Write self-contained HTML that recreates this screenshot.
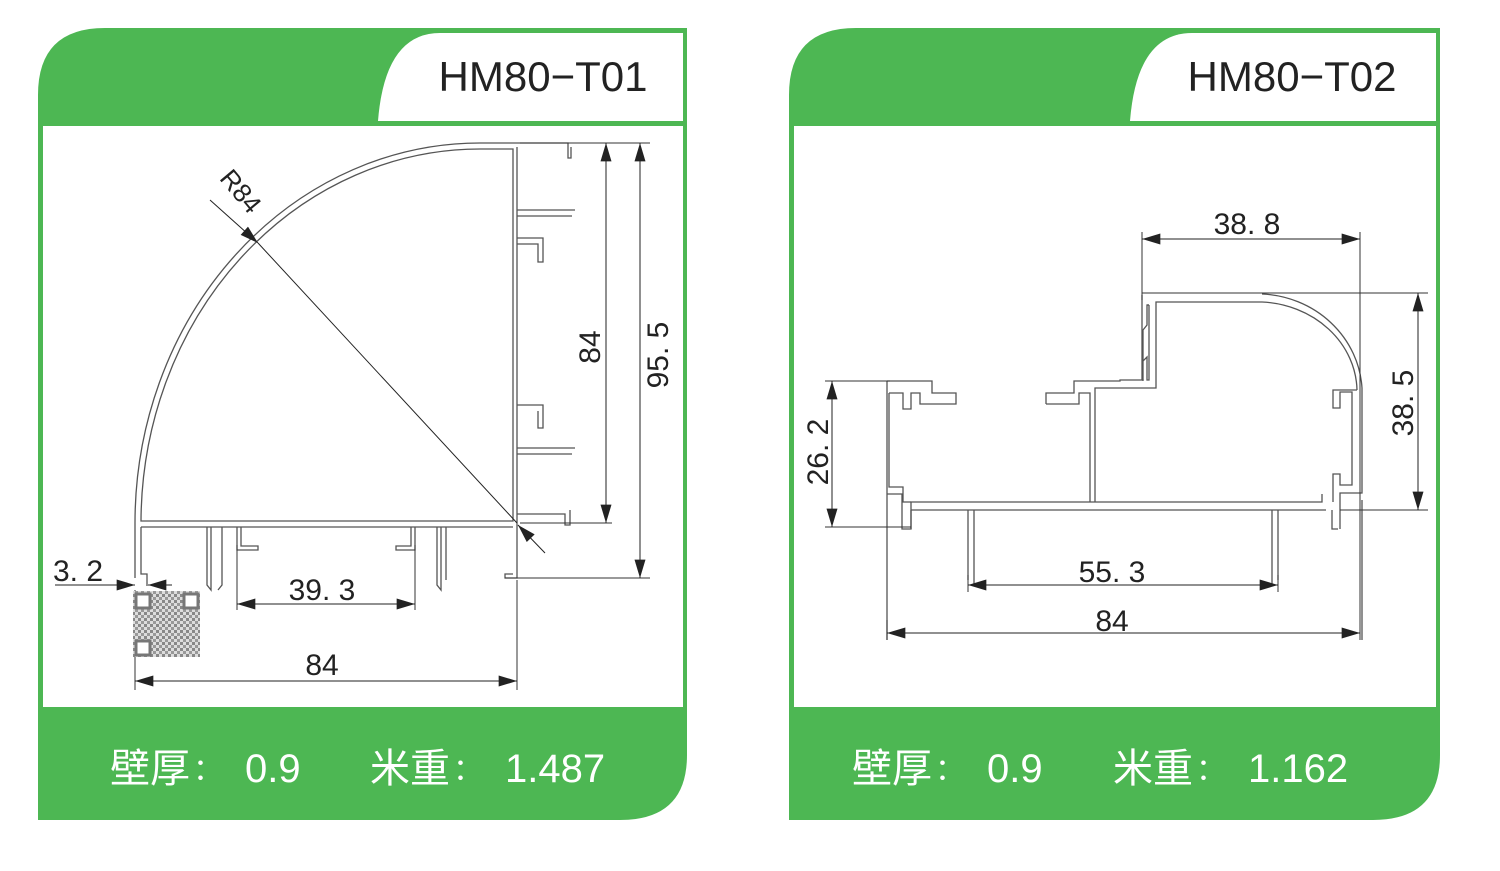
<!DOCTYPE html>
<html><head><meta charset="utf-8"><style>
body{margin:0;background:#fff;width:1500px;height:871px;overflow:hidden}
svg{display:block}
text{font-family:"Liberation Sans","Noto Sans CJK SC",sans-serif}
</style></head><body>
<svg width="1500" height="871" viewBox="0 0 1500 871">
<defs>
<marker id="a" viewBox="0 0 10 6" refX="10" refY="3" markerWidth="26" markerHeight="11" markerUnits="userSpaceOnUse" orient="auto-start-reverse"><path d="M0 0L10 3L0 6z" fill="#222"/></marker>
<pattern id="qr" width="6" height="6" patternUnits="userSpaceOnUse"><rect width="6" height="6" fill="#ddd"/><rect width="3" height="3" fill="#888"/><rect x="3" y="3" width="3" height="3" fill="#999"/></pattern>
</defs>
<path d="M38 95 Q38 28 105 28 H687 V755 Q687 820 620 820 H38 Z" fill="#4db753"/>
<rect x="43" y="126" width="640" height="581" fill="#fff"/>
<path d="M378 121 Q385 33 440 33 H683 V121 Z" fill="#fff"/>
<text x="543" y="91" font-size="42" text-anchor="middle" fill="#222">HM80−T01</text>
<g fill="#fff" font-size="40">
<text x="110" y="782">壁厚</text><text x="193" y="780" font-size="30">：</text><text x="245" y="782">0.9</text>
<text x="370" y="782">米重</text><text x="453" y="780" font-size="30">：</text><text x="505" y="782">1.487</text>
</g>
<path d="M789 95 Q789 28 856 28 H1440 V755 Q1440 820 1373 820 H789 Z" fill="#4db753"/>
<rect x="794" y="126" width="642" height="581" fill="#fff"/>
<path d="M1130 121 Q1137 33 1192 33 H1436 V121 Z" fill="#fff"/>
<text x="1292" y="91" font-size="42" text-anchor="middle" fill="#222">HM80−T02</text>
<g fill="#fff" font-size="40">
<text x="852" y="782">壁厚</text><text x="935" y="780" font-size="30">：</text><text x="987" y="782">0.9</text>
<text x="1113" y="782">米重</text><text x="1196" y="780" font-size="30">：</text><text x="1248" y="782">1.162</text>
</g>

<g fill="none" stroke="#555" stroke-width="1.3">
<path d="M135 578 V523 A345 380 0 0 1 480 143 H568 V158 H571 V147"/>
<path d="M141 521 A339 374 0 0 1 480 149 H513 V521 Z"/>
<path d="M517 147 V578 H505 V574 H513"/>
<path d="M141 527 H513 M141 527 V574 H147 V586"/>
<path d="M517 210 H575 M517 216 H572 M517 238 H543 V262 H538 V244 H517"/>
<path d="M517 405 H543 V428 H538 V411 M517 448 H575 M517 454 H572 M517 514 H565 V525 H570 V510"/>
<path d="M207 527 V585 L211 590 V527 M222 527 V585 L218 590 M237 527 V550 H258 V546 H241 V527"/>
<path d="M415 527 V550 H396 V546 H411 V527 M437 527 V585 L441 590 V527 M446 527 V580"/>
<path d="M520 143 H650 M520 523 H612 M505 578 H650" stroke="#333" stroke-width="1"/>
<path d="M237 545 V610 M415 545 V610 M135 590 V690 M517 580 V690" stroke="#333" stroke-width="1"/>
</g>
<g stroke="#222" stroke-width="1">
<line x1="606" y1="143" x2="606" y2="523" marker-start="url(#a)" marker-end="url(#a)"/>
<line x1="640" y1="143" x2="640" y2="578" marker-start="url(#a)" marker-end="url(#a)"/>
<line x1="237" y1="604" x2="415" y2="604" marker-start="url(#a)" marker-end="url(#a)"/>
<line x1="135" y1="681" x2="517" y2="681" marker-start="url(#a)" marker-end="url(#a)"/>
<line x1="55" y1="585" x2="135" y2="585" marker-end="url(#a)"/>
<line x1="172" y1="585" x2="148" y2="585" marker-end="url(#a)"/>
<line x1="210" y1="200" x2="258" y2="243" marker-end="url(#a)"/>
<line x1="258" y1="243" x2="517" y2="523"/>
<line x1="545" y1="553" x2="518" y2="525" marker-end="url(#a)"/>
</g>
<rect x="133" y="591" width="67" height="66" fill="url(#qr)"/>
<rect x="136" y="594" width="14" height="14" fill="#fff" stroke="#777" stroke-width="3"/>
<rect x="184" y="594" width="14" height="14" fill="#fff" stroke="#777" stroke-width="3"/>
<rect x="136" y="641" width="14" height="14" fill="#fff" stroke="#777" stroke-width="3"/>
<g fill="#222" font-size="30">
<text x="590" y="347" transform="rotate(-90 590 347)" text-anchor="middle" dy="10">84</text>
<text x="658" y="355" transform="rotate(-90 658 355)" text-anchor="middle" dy="10">95. 5</text>
<text x="322" y="600" text-anchor="middle">39. 3</text>
<text x="322" y="675" text-anchor="middle">84</text>
<text x="53" y="581">3. 2</text>
<text x="234" y="197" transform="rotate(50 234 197)" text-anchor="middle" font-size="26">R84</text>
</g>

<g fill="none" stroke="#555" stroke-width="1.3">
<path d="M887 381 V640 M887 381 H932 V393 H956 V404 H920 V393 H911 V409 H903 V393 H889"/>
<path d="M889 393 V487 H903 V502 H911 V502"/>
<path d="M887 494 H902 V529 H911 V502 H1322 V494"/>
<path d="M1046 404 V393 H1074 V381 H1120 V380 H1143 V381"/>
<path d="M1046 404 H1079 V393 H1090 V502 M1095 502 V388 H1156 V302 H1262 A100 90 0 0 1 1357 390"/>
<path d="M1143 380 V330 L1147 325 V305 H1149 M1143 380 V361 L1147 357 V380 H1149 V305 H1149"/>
<path d="M1142 295 V380 M1147 305 H1149"/>
<path d="M1262 294 A105 100 0 0 1 1362 388 V493 H1340 V529"/>
<path d="M1357 390 H1333 V408 H1340 V392 H1352 V485 H1340 V474 H1333 V502"/>
<path d="M911 510 H1326 M911 510 V529 M968 510 V580 M974 510 V585 M1272 510 V585 M1278 510 V580 M1332 510 V529 H1338"/>
<path d="M1362 500 V640"/>
<path d="M1142 232 V300 M1360 232 V640 M1142 293 H1428 M1340 510 H1428 M825 381 H890 M825 527 H911" stroke="#333" stroke-width="1"/>
<path d="M968 575 V592 M1278 575 V592 M887 620 V640" stroke="#333" stroke-width="1"/>
</g>
<g stroke="#222" stroke-width="1">
<line x1="1142" y1="239" x2="1360" y2="239" marker-start="url(#a)" marker-end="url(#a)"/>
<line x1="1418" y1="293" x2="1418" y2="510" marker-start="url(#a)" marker-end="url(#a)"/>
<line x1="832" y1="381" x2="832" y2="527" marker-start="url(#a)" marker-end="url(#a)"/>
<line x1="968" y1="585" x2="1278" y2="585" marker-start="url(#a)" marker-end="url(#a)"/>
<line x1="887" y1="633" x2="1360" y2="633" marker-start="url(#a)" marker-end="url(#a)"/>
</g>
<g fill="#222" font-size="30">
<text x="1247" y="234" text-anchor="middle">38. 8</text>
<text x="1403" y="403" transform="rotate(-90 1403 403)" text-anchor="middle" dy="10">38. 5</text>
<text x="818" y="452" transform="rotate(-90 818 452)" text-anchor="middle" dy="10">26. 2</text>
<text x="1112" y="582" text-anchor="middle">55. 3</text>
<text x="1112" y="631" text-anchor="middle">84</text>
</g>
</svg>
</body></html>
